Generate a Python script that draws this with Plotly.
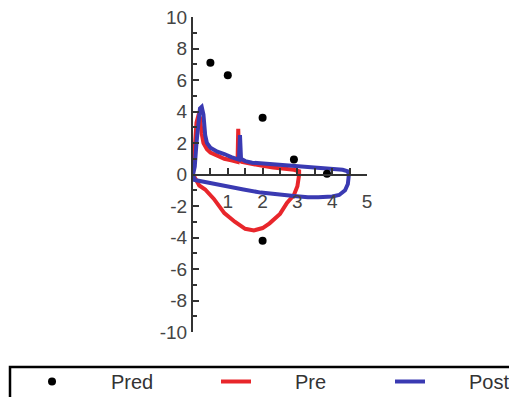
import plotly.graph_objects as go

# Predicted values
pred_x = [0.5, 1.0, 2.0, 2.9, 3.85, 2.0]
pred_y = [7.1, 6.3, 3.6, 0.95, 0.05, -4.2]

# Pre flow-volume loop
pre_x = [0, 0.03, 0.06, 0.1, 0.15, 0.2, 0.25, 0.3, 0.4, 0.5, 0.7, 0.9, 1.1, 1.28, 1.3, 1.33, 1.4,
         1.6, 1.8, 2.0, 2.3, 2.6, 2.9, 3.05, 3.05,
         3.0, 2.9, 2.7, 2.5, 2.2, 2.0, 1.75, 1.5, 1.2, 0.9, 0.6, 0.35, 0.18, 0.05, 0]
pre_y = [0, 1.0, 2.5, 3.3, 3.7, 3.6, 2.6, 2.0, 1.6, 1.4, 1.2, 1.0, 0.9, 0.8, 2.9, 0.9, 0.8,
         0.7, 0.6, 0.55, 0.45, 0.38, 0.3, 0.2, 0,
         -0.75, -1.3, -1.8, -2.5, -3.1, -3.4, -3.55, -3.45, -3.0, -2.45, -1.55, -0.95, -0.7, -0.2, 0]

# Post flow-volume loop
post_x = [0, 0.05, 0.1, 0.15, 0.2, 0.25, 0.3, 0.35, 0.4, 0.5, 0.7, 0.9, 1.1, 1.32, 1.35, 1.38,
          1.5, 1.7, 2.0, 2.3, 2.6, 3.0, 3.3, 3.6, 4.0, 4.3, 4.45, 4.48,
          4.45, 4.37, 4.2, 4.0, 3.6, 3.3, 2.9, 2.5, 1.95, 1.45, 1.0, 0.5, 0.2, 0.05, 0]
post_y = [0, 0.5, 2.0, 3.5, 4.2, 4.3, 3.8, 2.5, 2.0, 1.7, 1.45, 1.3, 1.1, 0.95, 2.5, 1.0,
          0.85, 0.75, 0.7, 0.6, 0.55, 0.47, 0.42, 0.38, 0.35, 0.3, 0.2, 0,
          -0.6, -1.0, -1.3, -1.4, -1.45, -1.45, -1.37, -1.3, -1.15, -0.95, -0.75, -0.53, -0.45, -0.35, 0]

x_tickvals = [1, 2, 3, 4, 5]
x_ticktext = ["1", "2", "3", "4", "5"]
y_tickvals = [-10, -8, -6, -4, -2, 0, 2, 4, 6, 8, 10]
y_ticktext = ["-10", "-8", "-6", "-4", "-2", "0", "2", "4", "6", "8", "10"]

NB = "\u00a0"
FONT = "Liberation Sans, Arial, sans-serif"
W, H = 517, 397

fig = go.Figure()
fig.add_trace(go.Scatter(x=pre_x, y=pre_y, mode="lines", name=NB * 7 + "Pre",
                         line=dict(color="#e8262b", width=4), legendrank=2, legendwidth=129))
fig.add_trace(go.Scatter(x=post_x, y=post_y, mode="lines", name=NB * 7 + "Post",
                         line=dict(color="#3a3ab2", width=4), legendrank=3, legendwidth=82))
fig.add_trace(go.Scatter(x=pred_x, y=pred_y, mode="markers", name=NB * 7 + "Pred",
                         marker=dict(color="black", size=8), legendrank=1, legendwidth=139))

# plot-area placement in pixels (page has an 8px body margin)
x0_px, x1_px = 185, 359
ytop_px, ybot_px = 9, 324
ydom = [(H - ybot_px) / H, (H - ytop_px) / H]

# legend frame (drawn as a paper-referenced rectangle)
frame_left_px, frame_top_px = 2, 359

axis_font = dict(family=FONT, size=19, color="#444")
fig.update_layout(
    width=W, height=H,
    margin=dict(l=0, r=0, t=0, b=0, autoexpand=False),
    paper_bgcolor="white", plot_bgcolor="white",
    showlegend=True,
    legend=dict(orientation="h", x=4 / W, xanchor="left", y=(H - 354) / H, yanchor="top",
                borderwidth=0, bgcolor="rgba(0,0,0,0)",
                font=dict(family=FONT, size=20, color="#333"),
                title=dict(text=NB * 2, side="left", font=dict(family=FONT, size=18))),
    shapes=[dict(type="rect", xref="paper", yref="paper",
                 x0=frame_left_px / W, x1=1.05,
                 y0=-0.1, y1=(H - frame_top_px) / H,
                 line=dict(color="black", width=2.5), fillcolor="rgba(0,0,0,0)", layer="below")],
    xaxis=dict(domain=[x0_px / W, x1_px / W], range=[0, 5], anchor="free",
               position=(ydom[0] + ydom[1]) / 2, showgrid=False, zeroline=False,
               showline=True, linecolor="#333", linewidth=2,
               tickvals=x_tickvals, ticktext=x_ticktext, ticks="inside", ticklen=6,
               tickwidth=1.5, tickcolor="#333",
               minor=dict(dtick=0.5, ticks="inside", ticklen=6, tickwidth=1.5, tickcolor="#333"),
               tickfont=axis_font, ticklabelstandoff=10, ticklabeloverflow="allow"),
    yaxis=dict(domain=ydom, range=[-10, 10], anchor="x", showgrid=False, zeroline=False,
               showline=True, linecolor="#333", linewidth=2,
               tickvals=y_tickvals, ticktext=y_ticktext, ticks="inside", ticklen=6,
               tickwidth=1.5, tickcolor="#333",
               minor=dict(dtick=1, ticks="inside", ticklen=4, tickwidth=1.5, tickcolor="#333"),
               tickfont=axis_font, ticklabeloverflow="allow"),
)
fig.write_html("out.html")
